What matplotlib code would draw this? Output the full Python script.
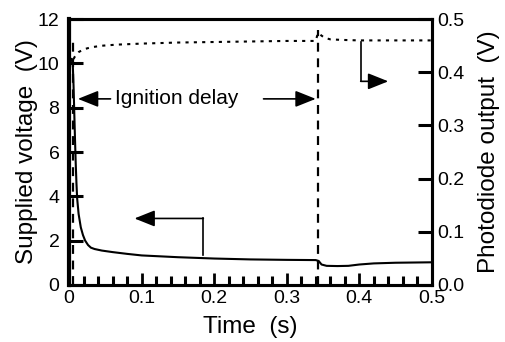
import matplotlib.pyplot as plt
from matplotlib.ticker import MultipleLocator

plt.rcParams['font.family'] = ['Liberation Sans', 'DejaVu Sans']

# supplied voltage trace (V)
t_volt = [0.003, 0.004, 0.005, 0.006, 0.007, 0.008, 0.009, 0.010, 0.011, 0.013,
          0.016, 0.019, 0.022, 0.026, 0.030, 0.035, 0.045, 0.060, 0.080, 0.100,
          0.150, 0.200, 0.250, 0.300, 0.340, 0.344, 0.348, 0.355, 0.370, 0.385,
          0.400, 0.420, 0.450, 0.500]
volt = [10.2, 10.1, 9.9, 9.0, 7.8, 6.6, 5.5, 4.6, 3.9, 3.2,
        2.6, 2.25, 2.0, 1.8, 1.68, 1.62, 1.55, 1.48, 1.40, 1.33,
        1.25, 1.19, 1.15, 1.13, 1.12, 1.08, 0.92, 0.86, 0.85, 0.86,
        0.92, 0.97, 1.0, 1.02]

# photodiode output trace (V)
t_pd = [0.006, 0.008, 0.010, 0.013, 0.017, 0.022, 0.030, 0.045, 0.065, 0.100,
        0.150, 0.200, 0.250, 0.300, 0.340, 0.343, 0.347, 0.352, 0.360, 0.375,
        0.400, 0.450, 0.500]
pd_out = [0.425, 0.43, 0.434, 0.438, 0.441, 0.444, 0.447, 0.450, 0.452, 0.454,
          0.456, 0.457, 0.458, 0.459, 0.459, 0.474, 0.470, 0.465, 0.462, 0.461,
          0.460, 0.460, 0.460]

# ignition start / end markers
t_ignite = [0.005, 0.343]

fig, ax = plt.subplots(figsize=(5.05, 3.42), dpi=100)
fig.subplots_adjust(left=0.137, right=0.855, bottom=0.167, top=0.944)
ax2 = ax.twinx()

ax.plot(t_volt, volt, color='black', lw=1.5)
ax2.plot(t_pd, pd_out, color='black', lw=1.5, linestyle=(0, (1.5, 2.5)))

ax.vlines(t_ignite[0], 0, 11.1, color='black', lw=1.6, linestyles=(0, (4, 3)))
ax.vlines(t_ignite[1], 0, 11.5, color='black', lw=1.6, linestyles=(0, (4, 3)))

arrow = dict(arrowstyle='-|>,head_length=1.25,head_width=0.5', color='black',
             lw=1.2, shrinkA=0, shrinkB=0)

# ignition delay arrows
ax.annotate('', xy=(0.012, 8.4), xytext=(0.057, 8.4), arrowprops=arrow)
ax.annotate('', xy=(0.340, 8.4), xytext=(0.268, 8.4), arrowprops=arrow)
ax.text(0.063, 8.4, 'Ignition delay', fontsize=15, va='center', ha='left')

# axis pointer for the voltage curve
ax.plot([0.185, 0.185], [1.35, 3.0], color='black', lw=1.2)
ax.annotate('', xy=(0.090, 3.0), xytext=(0.185, 3.0), arrowprops=arrow)

# axis pointer for the photodiode curve
ax2.plot([0.402, 0.402], [0.383, 0.457], color='black', lw=1.2)
ax2.annotate('', xy=(0.440, 0.383), xytext=(0.402, 0.383), arrowprops=arrow)

ax.set_xlim(0, 0.5)
ax.set_ylim(0, 12)
ax2.set_ylim(0, 0.5)

ax.xaxis.set_major_locator(MultipleLocator(0.1))
ax.xaxis.set_minor_locator(MultipleLocator(0.02))
ax.yaxis.set_major_locator(MultipleLocator(2))
ax2.yaxis.set_major_locator(MultipleLocator(0.1))
ax.xaxis.set_major_formatter(lambda v, p: '0' if v == 0 else f'{v:.1f}')
ax2.yaxis.set_major_formatter(lambda v, p: f'{v:.1f}')

ax.tick_params(axis='x', which='major', direction='in', length=9, width=2,
               labelsize=14, pad=4)
ax.tick_params(axis='x', which='minor', direction='in', length=6.5, width=2.2)
ax.tick_params(axis='y', direction='in', length=10, width=2.2, labelsize=14, pad=7)
ax2.tick_params(axis='y', direction='in', length=10, width=2.2, labelsize=14, pad=4)

for a in (ax, ax2):
    for s in a.spines.values():
        s.set_linewidth(2.2)
ax.spines['left'].set_linewidth(3)

ax.set_xlabel('Time  (s)', fontsize=17.5, labelpad=6.5)
ax.set_ylabel('Supplied voltage  (V)', fontsize=17.5, labelpad=0)
ax2.set_ylabel('Photodiode output  (V)', fontsize=17.5, labelpad=10)

plt.savefig('out.png')
